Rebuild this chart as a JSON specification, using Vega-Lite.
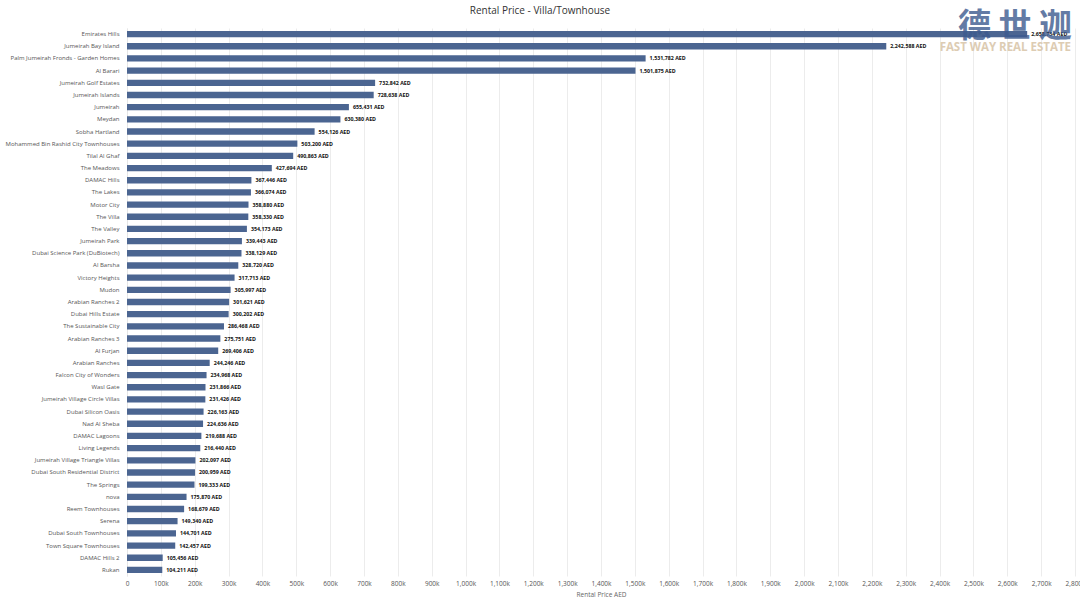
{
  "$schema": "https://vega.github.io/schema/vega-lite/v6.json",
  "autosize": "none",
  "width": 948,
  "height": 548,
  "padding": {"left": 127, "top": 28, "right": 5, "bottom": 32},
  "background": "white",
  "title": {
    "text": "Rental Price - Villa/Townhouse",
    "font": "Open Sans",
    "fontSize": 10,
    "fontWeight": "normal",
    "color": "#333333",
    "anchor": "middle",
    "dx": -61,
    "offset": -5
  },
  "config": {
    "view": {"stroke": null},
    "axis": {"labelFont": "Open Sans", "titleFont": "Open Sans"}
  },
  "data": {
    "values": [
      {"area": "Emirates Hills", "price": 2658754},
      {"area": "Jumeirah Bay Island", "price": 2242588},
      {"area": "Palm Jumeirah Fronds - Garden Homes", "price": 1531782},
      {"area": "Al Barari", "price": 1501875},
      {"area": "Jumeirah Golf Estates", "price": 732842},
      {"area": "Jumeirah Islands", "price": 728638},
      {"area": "Jumeirah", "price": 655431},
      {"area": "Meydan", "price": 630380},
      {"area": "Sobha Hartland", "price": 554126},
      {"area": "Mohammed Bin Rashid City Townhouses", "price": 503200},
      {"area": "Tilal Al Ghaf", "price": 490863},
      {"area": "The Meadows", "price": 427694},
      {"area": "DAMAC Hills", "price": 367446},
      {"area": "The Lakes", "price": 366074},
      {"area": "Motor City", "price": 358880},
      {"area": "The Villa", "price": 358330},
      {"area": "The Valley", "price": 354173},
      {"area": "Jumeirah Park", "price": 339443},
      {"area": "Dubai Science Park (DuBiotech)", "price": 338129},
      {"area": "Al Barsha", "price": 328720},
      {"area": "Victory Heights", "price": 317713},
      {"area": "Mudon", "price": 305997},
      {"area": "Arabian Ranches 2", "price": 301621},
      {"area": "Dubai Hills Estate", "price": 300202},
      {"area": "The Sustainable City", "price": 286468},
      {"area": "Arabian Ranches 3", "price": 275751},
      {"area": "Al Furjan", "price": 269406},
      {"area": "Arabian Ranches", "price": 244246},
      {"area": "Falcon City of Wonders", "price": 234968},
      {"area": "Wasl Gate", "price": 231866},
      {"area": "Jumeirah Village Circle Villas", "price": 231426},
      {"area": "Dubai Silicon Oasis", "price": 226163},
      {"area": "Nad Al Sheba", "price": 224636},
      {"area": "DAMAC Lagoons", "price": 219688},
      {"area": "Living Legends", "price": 216440},
      {"area": "Jumeirah Village Triangle Villas", "price": 202097},
      {"area": "Dubai South Residential District", "price": 200959},
      {"area": "The Springs", "price": 199333},
      {"area": "nova", "price": 175870},
      {"area": "Reem Townhouses", "price": 168679},
      {"area": "Serena", "price": 149340},
      {"area": "Dubai South Townhouses", "price": 144701},
      {"area": "Town Square Townhouses", "price": 142457},
      {"area": "DAMAC Hills 2", "price": 105456},
      {"area": "Rukan", "price": 104211}
    ]
  },
  "encoding": {
    "y": {
      "field": "area",
      "type": "nominal",
      "sort": null,
      "scale": {"paddingInner": 0.48, "paddingOuter": 0.24},
      "axis": {
        "title": null,
        "labelFontSize": 6,
        "labelColor": "#555555",
        "labelPadding": 8,
        "ticks": false,
        "domain": true,
        "domainColor": "#e6e6e6",
        "labelLimit": 140
      }
    },
    "x": {
      "field": "price",
      "type": "quantitative",
      "scale": {"domain": [0, 2800000], "nice": false},
      "axis": {
        "title": "Rental Price AED",
        "titleFontSize": 6.5,
        "titleFontWeight": "normal",
        "titleColor": "#666666",
        "titlePadding": 5,
        "labelFontSize": 6.5,
        "labelColor": "#555555",
        "labelPadding": 4,
        "labelOverlap": false,
        "labelFlush": false,
        "values": [0,100000,200000,300000,400000,500000,600000,700000,800000,900000,1000000,1100000,1200000,1300000,1400000,1500000,1600000,1700000,1800000,1900000,2000000,2100000,2200000,2300000,2400000,2500000,2600000,2700000,2800000],
        "labelExpr": "datum.value == 0 ? '0' : format(datum.value / 1000, ',') + 'k'",
        "ticks": false,
        "domain": false,
        "grid": true,
        "gridColor": "#ececec",
        "gridWidth": 1
      }
    }
  },
  "layer": [
    {
      "mark": {"type": "bar", "color": "#4b6591"}
    },
    {
      "mark": {
        "type": "text",
        "align": "left",
        "baseline": "middle",
        "dx": 4,
        "font": "Open Sans",
        "fontSize": 5.3,
        "fontWeight": "bold",
        "color": "#111111",
        "text": {"expr": "format(datum.price, ',') + ' AED'"}
      }
    },
    {
      "data": {"values": [{"brand": "德 世 迦", "x": 2800000, "row": "Emirates Hills"}]},
      "mark": {
        "type": "text",
        "align": "right",
        "baseline": "middle",
        "font": "Noto Sans CJK SC",
        "fontSize": 33,
        "fontWeight": "bold",
        "color": "#3d5b8f",
        "opacity": 0.8,
        "dx": -3,
        "dy": -7
      },
      "encoding": {
        "x": {"field": "x", "type": "quantitative"},
        "y": {"field": "row", "type": "nominal"},
        "text": {"field": "brand"}
      }
    },
    {
      "data": {"values": [{"brand": "FAST WAY REAL ESTATE", "x": 2800000, "row": "Jumeirah Bay Island"}]},
      "mark": {
        "type": "text",
        "align": "right",
        "baseline": "middle",
        "font": "Open Sans",
        "fontSize": 11.5,
        "fontWeight": "bold",
        "color": "#dac7ab",
        "opacity": 0.9,
        "dx": -4,
        "dy": 2
      },
      "encoding": {
        "x": {"field": "x", "type": "quantitative"},
        "y": {"field": "row", "type": "nominal"},
        "text": {"field": "brand"}
      }
    }
  ]
}
